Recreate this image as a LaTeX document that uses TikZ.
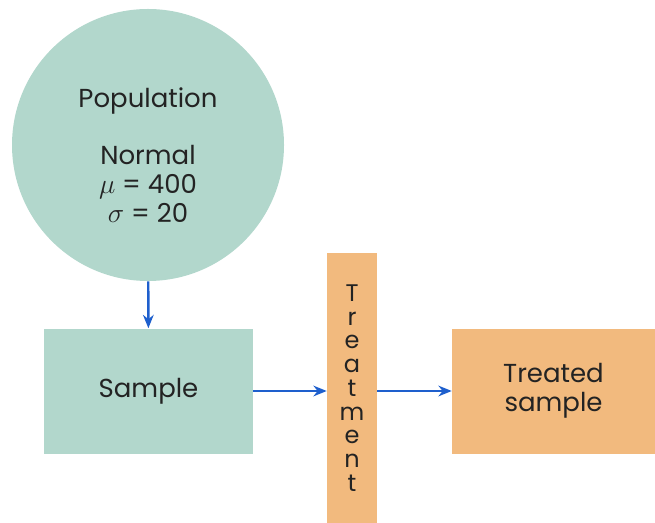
\documentclass[tikz,border=0pt]{standalone}
\usepackage{fontspec}
\setmainfont{Poppins}
\usepackage{xcolor}
\usepackage{tikz}
\usetikzlibrary{arrows.meta, positioning}
\definecolor{popteal}{RGB}{178, 215, 204}
\definecolor{treatorange}{RGB}{242, 186, 126}
\definecolor{flowblue}{RGB}{30, 95, 205}
\definecolor{inkgray}{RGB}{35, 35, 35}

\begin{document}
\begin{tikzpicture}[
    x=0.75pt, y=-0.75pt,
    population/.style={circle, fill=popteal, minimum size=204pt, inner sep=0pt},
    poptext/.style={align=center, text=inkgray, font=\fontsize{19.5}{21.5}\selectfont},
    samplebox/.style={rectangle, fill=popteal, minimum width=156.75pt, minimum height=93.75pt, align=center, text=inkgray, font=\fontsize{19.5}{21.5}\selectfont},
    treatbar/.style={rectangle, fill=treatorange, minimum width=37.5pt, minimum height=202.5pt, inner sep=0pt, align=center, text=inkgray, font=\fontsize{18}{17.8}\selectfont},
    treatbox/.style={rectangle, fill=treatorange, minimum width=152.25pt, minimum height=93.75pt, align=center, text=inkgray, font=\fontsize{19.5}{21.5}\selectfont},
    arrow/.style={-{Stealth[length=10pt, width=8pt]}, line width=1.8pt, flowblue}
]
    \useasboundingbox (0,0) rectangle (655,523);

    \node (pop) [population] at (148,145) {};
    \node (poplabel) [poptext] at ([yshift=-7.5pt]pop.center) {Population\\[21.5pt]Normal\\$\mu$ = 400\\$\sigma$ = 20};
    \node (sample) [samplebox] at (148.5,391) {Sample};
    \node (treat) [treatbar] at (352,388) {T\\r\\e\\a\\t\\m\\e\\n\\t};
    \node (treated) [treatbox] at (553.5,391) {Treated\\sample};

    \draw [arrow] (pop) -- (sample);
    \draw [arrow] (sample.east) -- (sample.east -| treat.west);
    \draw [arrow] (treat.east |- treated.west) -- (treated.west);
\end{tikzpicture}
\end{document}
